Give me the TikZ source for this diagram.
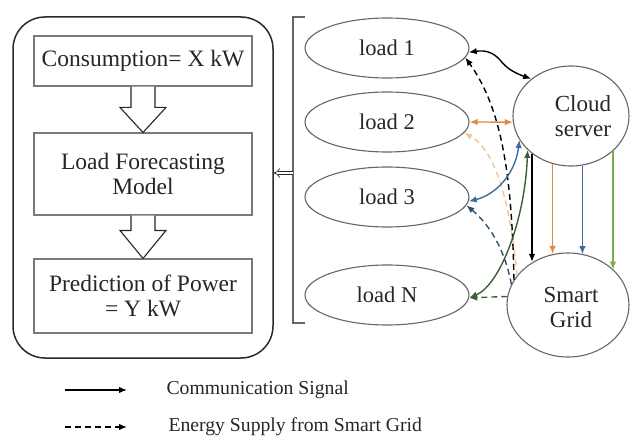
\documentclass[tikz,border=0pt]{standalone}
\usepackage{fontspec}
\setmainfont{Liberation Serif}
\newfontfamily\timesface{Liberation Serif}
\usetikzlibrary{arrows.meta,shapes.geometric,calc}
\definecolor{ink}{HTML}{262626}
\definecolor{framegray}{HTML}{2A2A2A}
\definecolor{boxgray}{HTML}{7A7A7A}
\definecolor{ellgray}{HTML}{666666}
\definecolor{sigorange}{HTML}{E58A3C}
\definecolor{supplyorange}{HTML}{F0C49C}
\definecolor{sigblue}{HTML}{3B6E9C}
\definecolor{supplyblue}{HTML}{33506B}
\definecolor{sigdarkgreen}{HTML}{3E5E38}
\definecolor{siggreen}{HTML}{76AE4C}
\begin{document}
\begin{tikzpicture}[x=1pt,y=-1pt,
  every node/.style={text=ink},
  stepbox/.style={draw=boxgray, line width=1.1pt, minimum width=218pt, inner sep=0pt,
    align=center, font=\timesface\fontsize{23.5}{25}\selectfont},
  hollowarrow/.style={draw=ink, line width=1.1pt, fill=white, line join=miter},
  loadnode/.style={ellipse, draw=ellgray, line width=1.1pt, minimum width=164pt,
    minimum height=60pt, inner sep=0pt, font=\timesface\fontsize{22.5}{25}\selectfont},
  hubnode/.style={ellipse, draw=ellgray, line width=1.1pt, inner sep=0pt},
  hubtext/.style={align=center, inner sep=0pt, text=ink, font=\timesface\fontsize{23}{25}\selectfont},
  comm/.style={line width=1.4pt, {Latex[length=8pt,width=6.5pt]}-{Latex[length=8pt,width=6.5pt]}},
  down/.style={line width=1.3pt, -{Latex[length=8pt,width=6.5pt]}},
  supply/.style={line width=1.4pt, dash pattern=on 6pt off 4pt, -{Latex[length=8pt,width=6.5pt]}},
  legendtext/.style={anchor=west, font=\timesface\fontsize{19.7}{22}\selectfont}
]
\useasboundingbox (0,0) rectangle (630,444);
\clip (0,0) rectangle (630,444);

% forecasting panel
\node[draw=framegray, line width=1.5pt, rounded corners=32pt,
      minimum width=260pt, minimum height=341pt, inner sep=0pt] (outer) at (143,187.5) {};
\node[stepbox, minimum height=50pt] (b1) at (143,61) {Consumption= X kW};
\node[stepbox, minimum height=82pt] (b2) at (143,174) {Load Forecasting\\Model};
\node[stepbox, minimum height=74pt] (b3) at (143,296) {Prediction of Power\\= Y kW};

\draw[hollowarrow] ($(b1.south)+(-12,0)$) -- ($(b2.north)+(-12,-25)$) -- ($(b2.north)+(-23,-25)$)
  -- (b2.north) -- ($(b2.north)+(23,-25)$) -- ($(b2.north)+(12,-25)$) -- ($(b1.south)+(12,0)$);
\draw[hollowarrow] ($(b2.south)+(-12,0)$) -- ($(b3.north)+(-12,-28)$) -- ($(b3.north)+(-23,-28)$)
  -- (b3.north) -- ($(b3.north)+(23,-28)$) -- ($(b3.north)+(12,-28)$) -- ($(b2.south)+(12,0)$);

% bracket grouping the loads
\draw[ellgray, line width=1.2pt] (305,17) -- (293,17) -- (293,323) -- (305,323);
\coordinate (brk) at (293,173);
\draw[ink, line width=0.7pt, double distance=2.6pt, -{Implies}] (brk) -- (outer.east |- brk);

% loads, cloud and grid
\node[loadnode] (load1) at (387,48) {load 1};
\node[loadnode] (load2) at (387,122) {load 2};
\node[loadnode] (load3) at (387,197) {load 3};
\node[loadnode] (loadN) at (387,295) {load N};
\node[hubnode, minimum width=116pt, minimum height=100pt,
      label={[hubtext, xshift=12pt]center:{Cloud\\server}}] (cloud) at (571,116) {};
\node[hubnode, minimum width=122pt, minimum height=104pt,
      label={[hubtext, xshift=3pt, yshift=-2pt]center:{Smart\\Grid}}] (grid) at (568,305) {};

% cloud to grid
\draw[down, black] (cloud.224.8) -- (cloud.224.8 |- grid.129.1);
\draw[down, sigorange] (cloud.249.3) -- (cloud.249.3 |- grid.106.5);
\draw[down, sigblue] (cloud.283.8) -- (cloud.283.8 |- grid.73.5);
\draw[down, siggreen] (cloud.320.6) -- (cloud.320.6 |- grid.38.5);

% energy supply from the grid
\draw[supply, supplyorange] (grid.150) .. controls (510,200) and (495,150) .. (load2.-8);
\draw[supply, black] (grid.155) .. controls (512,180) and (503,110) .. (load1.-7);
\draw[supply, supplyblue] (grid.160) .. controls (505,250) and (490,225) .. (load3.-6);
\draw[supply, sigdarkgreen] (grid.172) -- (loadN.-2);

% communication signals
\draw[comm, black] (load1.-3) .. controls (485,50) and (493,52) .. (500,60)
  .. controls (507,69) and (515,73) .. (cloud.137);
\draw[comm, sigorange] (load2.east) -- (cloud.186);
\draw[comm, sigblue] (load3.-3) .. controls (495,195) and (515,175) .. (cloud.205);
\draw[comm, sigdarkgreen] (loadN.-2) .. controls (500,285) and (525,220) .. (cloud.218);

% legend
\coordinate (lg1a) at (65,390);
\coordinate (lg1b) at (127,390);
\coordinate (lg2a) at (65,427);
\coordinate (lg2b) at (127,427);
\draw[line width=1.4pt, -{Latex[length=8pt,width=6.5pt]}] (lg1a) -- (lg1b);
\draw[line width=1.4pt, dash pattern=on 6pt off 4pt, -{Latex[length=8pt,width=6.5pt]}] (lg2a) -- (lg2b);
\node[legendtext] (lgt1) at (163,390) {Communication Signal};
\node[legendtext] (lgt2) at (165,427) {Energy Supply from Smart Grid};
\end{tikzpicture}
\end{document}
